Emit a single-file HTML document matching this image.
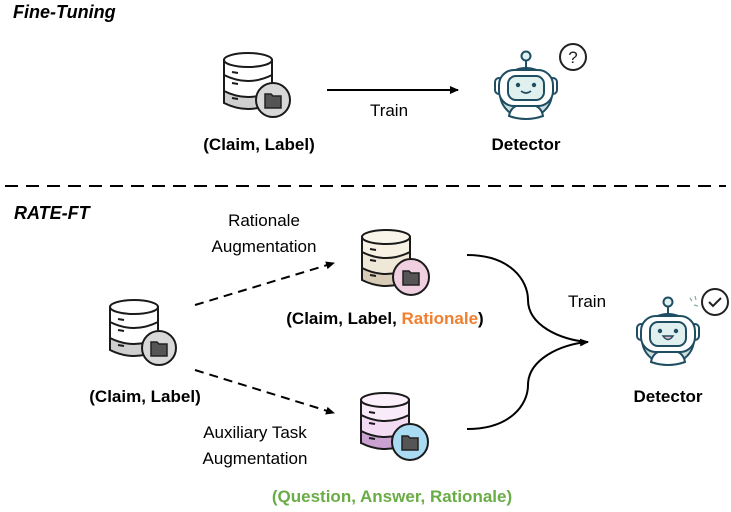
<!DOCTYPE html>
<html><head><meta charset="utf-8"><style>
html,body{margin:0;padding:0;background:#fff;}
svg{display:block;}
text{font-family:"Liberation Sans",sans-serif;}
</style></head><body>
<svg width="731" height="512" viewBox="0 0 731 512" xmlns="http://www.w3.org/2000/svg">
<defs>
<marker id="ah" markerWidth="10" markerHeight="10" refX="8" refY="5" orient="auto" markerUnits="userSpaceOnUse">
<path d="M0,1 L9,5 L0,9 z" fill="#000"/></marker>
</defs>

<text x="13" y="18" font-size="18" font-weight="bold" font-style="italic">Fine-Tuning</text>
<text x="14" y="219" font-size="18" font-weight="bold" font-style="italic">RATE-FT</text>
<line x1="5" y1="186" x2="726" y2="186" stroke="#000" stroke-width="2" stroke-dasharray="13,8"/>

<g stroke="#1a1a1a" stroke-width="2">
  <g transform="translate(224,53)">
    <path d="M0,38 L0,50 Q24,62 48,50 L48,38 Z" fill="#cfcfcf"/>
    <path d="M0,22 L0,38 Q24,50 48,38 L48,22 Z" fill="#fff"/>
    <path d="M0,7 L0,22 Q24,34 48,22 L48,7 Z" fill="#fff"/>
    <ellipse cx="24" cy="7" rx="24" ry="7" fill="#fff"/>
    <line x1="8" y1="19" x2="14" y2="20"/><line x1="8" y1="30" x2="14" y2="31"/><line x1="8" y1="45" x2="14" y2="46"/>
    <circle cx="49" cy="47" r="17" fill="#d8d8d8"/>
    <path d="M41,41 h6 l2,2 h8 v12 h-16 z" fill="#555" stroke="#222" stroke-width="1.5"/>
  </g>
  <g transform="translate(110,300)">
    <path d="M0,38 L0,50 Q24,62 48,50 L48,38 Z" fill="#cfcfcf"/>
    <path d="M0,22 L0,38 Q24,50 48,38 L48,22 Z" fill="#fff"/>
    <path d="M0,7 L0,22 Q24,34 48,22 L48,7 Z" fill="#fff"/>
    <ellipse cx="24" cy="7" rx="24" ry="7" fill="#fff"/>
    <line x1="8" y1="19" x2="14" y2="20"/><line x1="8" y1="30" x2="14" y2="31"/><line x1="8" y1="45" x2="14" y2="46"/>
    <circle cx="49" cy="48" r="17" fill="#d8d8d8"/>
    <path d="M41,42 h6 l2,2 h8 v12 h-16 z" fill="#555" stroke="#222" stroke-width="1.5"/>
  </g>
  <g transform="translate(362,230)">
    <path d="M0,38 L0,50 Q24,62 48,50 L48,38 Z" fill="#d8ccb6"/>
    <path d="M0,22 L0,38 Q24,50 48,38 L48,22 Z" fill="#efe7d7"/>
    <path d="M0,7 L0,22 Q24,34 48,22 L48,7 Z" fill="#f7f1e4"/>
    <ellipse cx="24" cy="7" rx="24" ry="7" fill="#faf5ea"/>
    <line x1="8" y1="19" x2="14" y2="20"/><line x1="8" y1="30" x2="14" y2="31"/><line x1="8" y1="45" x2="14" y2="46"/>
    <circle cx="49" cy="47" r="18" fill="#f0cfe0"/>
    <path d="M41,41 h6 l2,2 h8 v12 h-16 z" fill="#555" stroke="#222" stroke-width="1.5"/>
  </g>
  <g transform="translate(361,393)">
    <path d="M0,38 L0,50 Q24,62 48,50 L48,38 Z" fill="#c9a2d0"/>
    <path d="M0,22 L0,38 Q24,50 48,38 L48,22 Z" fill="#f3dcf3"/>
    <path d="M0,7 L0,22 Q24,34 48,22 L48,7 Z" fill="#f9ebf9"/>
    <ellipse cx="24" cy="7" rx="24" ry="7" fill="#fbf0fb"/>
    <line x1="8" y1="19" x2="14" y2="20"/><line x1="8" y1="30" x2="14" y2="31"/><line x1="8" y1="45" x2="14" y2="46"/>
    <circle cx="49" cy="49" r="18" fill="#a9dcf3"/>
    <path d="M41,43 h6 l2,2 h8 v12 h-16 z" fill="#555" stroke="#222" stroke-width="1.5"/>
  </g>
</g>

<g stroke="#1f4e63" stroke-width="2">
  <g transform="translate(526,56)">
    <ellipse cx="0" cy="37" rx="26" ry="25" fill="#cfdfe0"/>
    <path d="M-17,60 Q-15,48 0,48 Q15,48 17,60 Q0,66 -17,60 Z" fill="#fff"/>
    <line x1="0" y1="4" x2="0" y2="14"/>
    <circle cx="0" cy="0" r="4.5" fill="#dff0ee"/>
    <rect x="-31" y="22" width="8" height="16" rx="4" fill="#fff"/>
    <rect x="23" y="22" width="8" height="16" rx="4" fill="#fff"/>
    <rect x="-27" y="14" width="54" height="36" rx="15" fill="#fff"/>
    <rect x="-18" y="20" width="36" height="24" rx="8" fill="#dff0ee"/>
    <circle cx="-8" cy="29" r="2.2" fill="#1f4e63" stroke="none"/>
    <circle cx="8" cy="29" r="2.2" fill="#1f4e63" stroke="none"/>
    <path d="M-5,35 Q0,39 5,35" fill="none" stroke-width="1.6"/>
  </g>
  <g transform="translate(668,302)">
    <ellipse cx="0" cy="37" rx="26" ry="25" fill="#cfdfe0"/>
    <path d="M-17,60 Q-15,48 0,48 Q15,48 17,60 Q0,66 -17,60 Z" fill="#fff"/>
    <line x1="0" y1="4" x2="0" y2="14"/>
    <circle cx="0" cy="0" r="4.5" fill="#dff0ee"/>
    <rect x="-31" y="22" width="8" height="16" rx="4" fill="#fff"/>
    <rect x="23" y="22" width="8" height="16" rx="4" fill="#fff"/>
    <rect x="-27" y="14" width="54" height="36" rx="15" fill="#fff"/>
    <rect x="-18" y="20" width="36" height="24" rx="8" fill="#dff0ee"/>
    <circle cx="-8" cy="29" r="2.2" fill="#1f4e63" stroke="none"/>
    <circle cx="8" cy="29" r="2.2" fill="#1f4e63" stroke="none"/>
    <path d="M-5,34 Q0,41 5,34 Z" fill="#f3b8c0" stroke-width="1.5"/>
    <line x1="22" y1="-4" x2="24" y2="-1" stroke="#8aa" stroke-width="1.2"/>
    <line x1="27" y1="-6" x2="28" y2="-2" stroke="#8aa" stroke-width="1.2"/>
    <line x1="26" y1="3" x2="30" y2="4" stroke="#8aa" stroke-width="1.2"/>
  </g>
</g>
<circle cx="573" cy="57" r="13" fill="#fff" stroke="#222" stroke-width="2"/>
<text x="573" y="63" font-size="17" text-anchor="middle" fill="#222">?</text>
<circle cx="715" cy="302" r="13" fill="#fff" stroke="#222" stroke-width="2"/>
<path d="M709,302 l4,4 l8,-8" fill="none" stroke="#222" stroke-width="2"/>

<line x1="327" y1="90" x2="458" y2="90" stroke="#000" stroke-width="2" marker-end="url(#ah)"/>
<line x1="195" y1="305" x2="334" y2="263" stroke="#000" stroke-width="2" stroke-dasharray="9,6" marker-end="url(#ah)"/>
<line x1="195" y1="370" x2="334" y2="413" stroke="#000" stroke-width="2" stroke-dasharray="9,6" marker-end="url(#ah)"/>
<path d="M467,255 C510,255 528,280 528,300 C528,325 560,340 588,342" fill="none" stroke="#000" stroke-width="2"/>
<path d="M467,429 C510,429 528,405 528,385 C528,360 560,344 588,342" fill="none" stroke="#000" stroke-width="2" marker-end="url(#ah)"/>

<text x="389" y="116" font-size="17" text-anchor="middle">Train</text>
<text x="587" y="307" font-size="17" text-anchor="middle">Train</text>
<text x="259" y="150" font-size="17" font-weight="bold" text-anchor="middle">(Claim, Label)</text>
<text x="526" y="150" font-size="17" font-weight="bold" text-anchor="middle">Detector</text>
<text x="145" y="402" font-size="17" font-weight="bold" text-anchor="middle">(Claim, Label)</text>
<text x="668" y="402" font-size="17" font-weight="bold" text-anchor="middle">Detector</text>
<text x="264" y="226" font-size="17" text-anchor="middle">Rationale</text>
<text x="264" y="252" font-size="17" text-anchor="middle">Augmentation</text>
<text x="255" y="438" font-size="17" text-anchor="middle">Auxiliary Task</text>
<text x="255" y="464" font-size="17" text-anchor="middle">Augmentation</text>
<text x="385" y="324" font-size="17" font-weight="bold" text-anchor="middle">(Claim, Label, <tspan fill="#f07f2e">Rationale</tspan>)</text>
<text x="392" y="502" font-size="17" font-weight="bold" text-anchor="middle" fill="#6aac45">(Question, Answer, Rationale)</text>
</svg>
</body></html>
